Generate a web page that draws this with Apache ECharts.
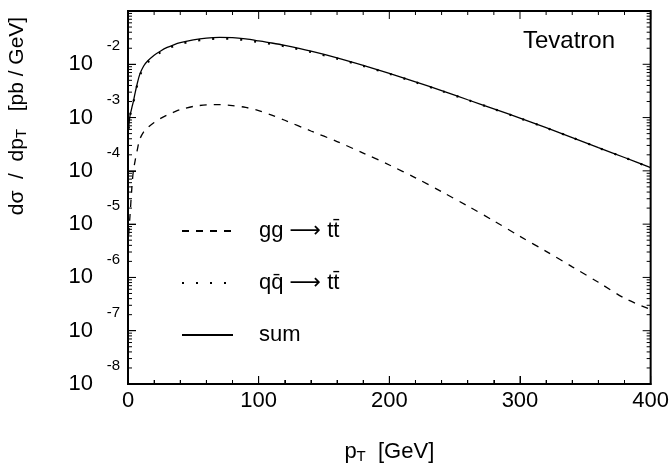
<!DOCTYPE html>
<html>
<head>
<meta charset="utf-8">
<script src="https://cdn.jsdelivr.net/npm/echarts@6.0.0/dist/echarts.min.js"></script>
<style>
  html, body { margin: 0; padding: 0; background: #fff; }
  #main { width: 672px; height: 469px; }
</style>
</head>
<body>
<div id="main"></div>
<script>
// transverse momentum grid [GeV]
var pT = [0.5, 1.5, 3, 4, 5.5, 7, 9, 12, 15, 20, 25, 30, 35, 40, 50, 60, 70, 80, 90, 100,
          110, 120, 140, 160, 180, 200, 220, 240, 260, 280, 300, 320, 340, 360, 380, 400];
// dsigma/dpT [pb/GeV]
var ggTT = [6.3e-6, 1.41e-5, 5.0e-5, 9.5e-5, 1.58e-4, 2.4e-4, 3.9e-4, 5.4e-4, 6.45e-4, 8.1e-4,
            9.66e-4, 1.12e-3, 1.26e-3, 1.41e-3, 1.62e-3, 1.73e-3, 1.75e-3, 1.68e-3, 1.55e-3, 1.35e-3,
            1.11e-3, 8.9e-4, 5.6e-4, 3.55e-4, 2.16e-4, 1.29e-4, 7.4e-5, 4.07e-5, 2.19e-5, 1.15e-5,
            5.9e-6, 3.09e-6, 1.58e-6, 8.1e-7, 4.07e-7, 2.5e-7];
var qqTT = [6.2e-4, 1.06e-3, 1.50e-3, 1.86e-3, 2.79e-3, 4.03e-3, 6.07e-3, 8.76e-3, 1.086e-2, 1.40e-2,
            1.68e-2, 1.96e-2, 2.19e-2, 2.40e-2, 2.72e-2, 2.94e-2, 3.03e-2, 2.99e-2, 2.84e-2, 2.62e-2,
            2.40e-2, 2.17e-2, 1.70e-2, 1.28e-2, 9.33e-3, 6.63e-3, 4.61e-3, 3.16e-3, 2.14e-3, 1.45e-3,
            9.71e-4, 6.43e-4, 4.20e-4, 2.71e-4, 1.776e-4, 1.147e-4];
var sumTT = [6.3e-4, 1.07e-3, 1.55e-3, 1.95e-3, 2.95e-3, 4.27e-3, 6.46e-3, 9.3e-3, 1.15e-2, 1.48e-2,
             1.78e-2, 2.07e-2, 2.32e-2, 2.54e-2, 2.88e-2, 3.11e-2, 3.20e-2, 3.16e-2, 2.99e-2, 2.75e-2,
             2.51e-2, 2.26e-2, 1.76e-2, 1.32e-2, 9.55e-3, 6.76e-3, 4.68e-3, 3.20e-3, 2.16e-3, 1.46e-3,
             9.77e-4, 6.46e-4, 4.22e-4, 2.72e-4, 1.78e-4, 1.15e-4];
var seriesNames = ['gg', 'qqbar', 'sum'];
var legendText = {
  gg: '{p| }{t|gg }{r|\u27f6}{t| tt\u0304}',
  qqbar: '{p| }{t|qq\u0304 }{r|\u27f6}{t| tt\u0304}',
  sum: '{p| }{t|sum}'
};
// tick values
var yMajor = [1e-8, 1e-7, 1e-6, 1e-5, 1e-4, 1e-3, 1e-2, 1e-1];
var xMajor = [0, 100, 200, 300, 400];
var xMinor = [20, 40, 60, 80, 120, 140, 160, 180, 220, 240, 260, 280, 320, 340, 360, 380];

var FONT = 'Liberation Sans';
var black = '#000';
var X0 = 0, X1 = 400, Y0 = 1e-8, Y1 = 1e-1;

// log minor ticks 2..9 in every decade
var yMinor = [];
for (var d = -8; d < -1; d++) {
  for (var k = 2; k < 10; k++) yMinor.push(k * Math.pow(10, d));
}

function pairs(ys) {
  return pT.map(function (x, i) { return [x, ys[i]]; });
}

// inward tick marks on all four sides: [x, y, length, direction]
// direction 0 = right, 1 = left, 2 = up, 3 = down
var tickData = [];
yMajor.forEach(function (v) { tickData.push([X0, v, 8, 0], [X1, v, 8, 1]); });
yMinor.forEach(function (v) { tickData.push([X0, v, 4, 0], [X1, v, 4, 1]); });
xMajor.forEach(function (v) { tickData.push([v, Y0, 8, 2], [v, Y1, 8, 3]); });
xMinor.forEach(function (v) { tickData.push([v, Y0, 4, 2], [v, Y1, 4, 3]); });

var myChart = echarts.init(document.getElementById('main'));

var option = {
  animation: false,
  backgroundColor: '#fff',
  title: {
    text: 'Tevatron', right: 57, top: 29, padding: 0,
    textStyle: { fontSize: 24, fontWeight: 'normal', color: black, fontFamily: FONT }
  },
  graphic: [{
    // rotated y-axis title
    type: 'text', x: 17, y: 116, rotation: Math.PI / 2, silent: true,
    style: {
      text: '{a|d\u03c3  /  dp}{s|T}{a|   [pb / GeV]}',
      align: 'center', verticalAlign: 'middle', fill: black,
      rich: {
        a: { fontSize: 21, lineHeight: 24, fontFamily: FONT, fill: black },
        s: { fontSize: 15, lineHeight: 14, verticalAlign: 'bottom', fontFamily: FONT, fill: black }
      }
    }
  }],
  legend: {
    orient: 'vertical', left: 181, top: 220, padding: 0,
    itemWidth: 51, itemHeight: 14, itemGap: 30, selectedMode: false,
    data: seriesNames,
    itemStyle: { opacity: 0 },
    formatter: function (n) { return legendText[n]; },
    textStyle: {
      color: black, fontFamily: FONT,
      rich: {
        p: { width: 21, fontSize: 22 },
        t: { fontSize: 22, fontFamily: FONT, color: black },
        r: { fontSize: 22, fontFamily: 'DejaVu Sans', color: black }
      }
    }
  },
  grid: {
    left: 128, right: 19, top: 11, bottom: 81,
    show: true, borderColor: black, borderWidth: 2, backgroundColor: 'transparent'
  },
  xAxis: {
    type: 'value', min: X0, max: X1, interval: 100, position: 'bottom',
    axisLine: { show: true, onZero: false, lineStyle: { color: black, width: 2 } },
    axisTick: { show: true, inside: true, length: 8, lineStyle: { color: black } },
    minorTick: { show: true, splitNumber: 5, length: 4, lineStyle: { color: black } },
    axisLabel: { show: true, fontSize: 22, margin: 6, color: black, fontFamily: FONT },
    splitLine: { show: false },
    name: '{a|p}{s|T}{a|  [GeV]}',
    nameLocation: 'middle',
    nameGap: 56,
    nameTextStyle: {
      rich: {
        a: { fontSize: 22, lineHeight: 24, fontFamily: FONT, color: black },
        s: { fontSize: 15, lineHeight: 8, verticalAlign: 'bottom', fontFamily: FONT, color: black }
      }
    }
  },
  yAxis: {
    type: 'log', logBase: 10, min: Y0, max: Y1, position: 'left',
    axisLine: { show: true, onZero: false, lineStyle: { color: black, width: 2 } },
    axisTick: { show: true, inside: true, length: 8, customValues: yMajor, lineStyle: { color: black } },
    minorTick: { show: false },
    splitLine: { show: false },
    axisLabel: {
      show: true, customValues: yMajor, margin: 8, padding: [0, 0, 16, 0],
      color: black, fontFamily: FONT,
      formatter: function (v) {
        var e = Math.round(Math.log10(v));
        if (e === -1) return '';
        return '{e|' + e + '}\n{b|10}';
      },
      rich: {
        e: { fontSize: 15, lineHeight: 16, align: 'right', fontFamily: FONT, color: black },
        b: { fontSize: 22, lineHeight: 20, padding: [0, 27, 0, 0], fontFamily: FONT, color: black }
      }
    }
  },
  series: [
    {
      name: 'gg', type: 'line', data: pairs(ggTT), symbol: 'none', smooth: 0.3,
      lineStyle: { color: black, width: 1.3, type: [7, 7] }, itemStyle: { color: black }, z: 3
    },
    {
      name: 'sum', type: 'line', data: pairs(sumTT), symbol: 'none', smooth: 0.3,
      lineStyle: { color: black, width: 1.3, type: 'solid' }, itemStyle: { color: black }, z: 3
    },
    {
      name: 'qqbar', type: 'line', data: pairs(qqTT), symbol: 'none', smooth: 0.3,
      lineStyle: { color: black, width: 2.2, type: [2, 12] }, itemStyle: { color: black }, z: 4
    },
    {
      // frame ticks, placed through the axes' own scales
      type: 'custom', silent: true, z: 5, clip: false,
      data: tickData,
      renderItem: function (params, api) {
        var p = api.coord([api.value(0), api.value(1)]);
        var len = api.value(2), dir = api.value(3);
        var dx = dir === 0 ? len : (dir === 1 ? -len : 0);
        var dy = dir === 2 ? -len : (dir === 3 ? len : 0);
        return {
          type: 'line',
          shape: { x1: p[0], y1: p[1], x2: p[0] + dx, y2: p[1] + dy },
          style: { stroke: black, lineWidth: 1 }
        };
      }
    }
  ]
};

myChart.setOption(option);
</script>
</body>
</html>
